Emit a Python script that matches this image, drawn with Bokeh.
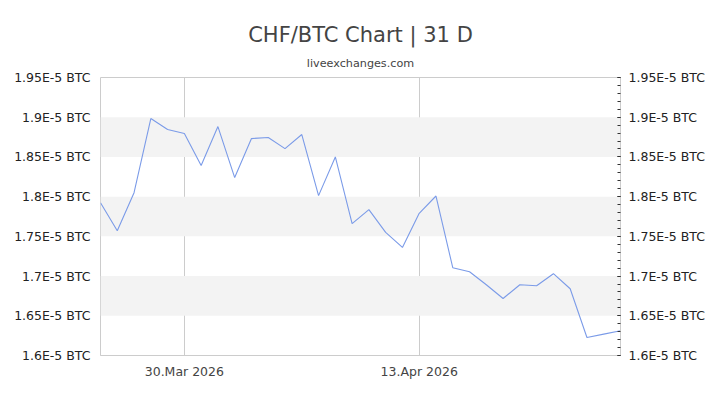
from datetime import date, timedelta, datetime

from bokeh.plotting import figure
from bokeh.models import (LinearAxis, BoxAnnotation, Title, Range1d,
                          FixedTicker, CustomJSTickFormatter,
                          DatetimeTickFormatter)
from bokeh.embed import file_html
from bokeh.resources import INLINE

# CHF/BTC daily rate, in units of 1E-5 BTC, 25 Mar 2026 .. 25 Apr 2026
start_day = date(2026, 3, 25)
rate_e5 = [1.7924, 1.7571, 1.8050, 1.8983, 1.8845, 1.8794, 1.8391, 1.8882,
           1.8240, 1.8731, 1.8744, 1.8605, 1.8782, 1.8013, 1.8500, 1.7660,
           1.7836, 1.7550, 1.7361, 1.7790, 1.8008, 1.7105, 1.7055, 1.6891,
           1.6718, 1.6891, 1.6878, 1.7030, 1.6840, 1.6227, 1.6269, 1.6311]

x_tick_days = [date(2026, 3, 30), date(2026, 4, 13)]
y_ticks = [1.60, 1.65, 1.70, 1.75, 1.80, 1.85, 1.90, 1.95]
band_lows = [1.65, 1.75, 1.85]
band_size = 0.05
y_low, y_high = 1.60, 1.95

FONT = "DejaVu Sans"


def ms(d):
    return (datetime(d.year, d.month, d.day) - datetime(1970, 1, 1)).total_seconds() * 1000


days_ms = [ms(start_day + timedelta(days=i)) for i in range(len(rate_e5))]

# the page is drawn at (0, 0), so the figure fills the whole window
p = figure(width=720, height=405,
           x_axis_type="datetime",
           x_range=Range1d(days_ms[0], days_ms[-1]),
           y_range=Range1d(y_low, y_high),
           output_backend="svg",
           toolbar_location=None,
           min_border_left=100, min_border_right=100,
           min_border_top=77, min_border_bottom=50)

p.add_layout(Title(text="liveexchanges.com", align="center",
                   text_font=FONT, text_font_size="11.2px", standoff=16,
                   text_font_style="normal", text_color="#444444"), "above")
p.add_layout(Title(text="CHF/BTC Chart | 31 D", align="center",
                   text_font=FONT, text_font_size="21px", standoff=0,
                   text_font_style="normal", text_color="#444444"), "above")

# alternating background bands
for low in band_lows:
    p.add_layout(BoxAnnotation(bottom=low, top=low + band_size,
                               fill_color="#f3f3f3", fill_alpha=1.0,
                               line_color=None, level="underlay"))

p.line(days_ms, rate_e5, line_color="#7b9be8", line_width=1.1)

y_fmt = CustomJSTickFormatter(code="return parseFloat(tick.toFixed(2)) + 'E-5 BTC';")
minor = [round(y_low + 0.01 * i, 2) for i in range(36)]
y_ticker = FixedTicker(ticks=y_ticks, minor_ticks=minor)

# left axis: labels only
yl = p.yaxis[0]
yl.ticker = FixedTicker(ticks=y_ticks)
yl.formatter = y_fmt
yl.axis_line_color = None
yl.major_tick_line_color = None
yl.minor_tick_line_color = None
yl.major_tick_out = 0
yl.minor_tick_out = 0
yl.major_label_standoff = 10

# right axis: labels plus inward ticks
yr = LinearAxis(ticker=y_ticker, formatter=y_fmt)
yr.axis_line_color = "#cccccc"
yr.major_tick_in = 3
yr.major_tick_out = 0
yr.minor_tick_in = 3
yr.minor_tick_out = 0
yr.major_tick_line_color = "#333333"
yr.minor_tick_line_color = "#333333"
yr.major_label_standoff = 8
p.add_layout(yr, "right")

for ax in (yl, yr):
    ax.major_label_text_font = FONT
    ax.major_label_text_font_size = "12.5px"
    ax.major_label_text_color = "#222222"

xt = FixedTicker(ticks=[ms(d) for d in x_tick_days])
xa = p.xaxis[0]
xa.ticker = xt
xa.formatter = DatetimeTickFormatter(days="%d.%b %Y", months="%d.%b %Y")
xa.axis_line_color = "#cccccc"
xa.major_tick_line_color = None
xa.minor_tick_line_color = None
xa.major_tick_out = 0
xa.minor_tick_out = 0
xa.major_label_standoff = 8
xa.major_label_text_font = FONT
xa.major_label_text_font_size = "12.5px"
xa.major_label_text_color = "#444444"

p.xgrid.ticker = xt
p.xgrid.grid_line_color = "#cccccc"
p.ygrid.grid_line_color = None

p.outline_line_color = "#cccccc"
p.background_fill_color = "white"
p.border_fill_color = "white"

open("out.html", "w").write(file_html(p, INLINE))
